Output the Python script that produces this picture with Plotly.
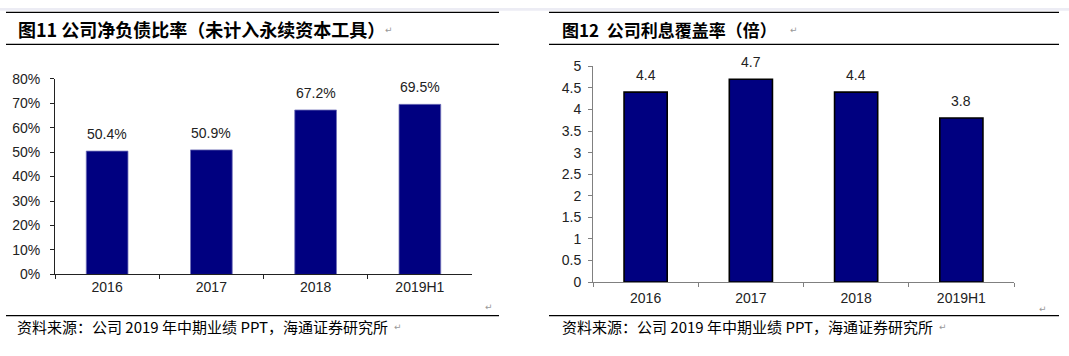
import plotly.graph_objects as go

W, H = 1069, 356

categories = ["2016", "2017", "2018", "2019H1"]
net_debt_ratio = [50.4, 50.9, 67.2, 69.5]          # %
interest_cover = [4.4, 4.7, 4.4, 3.8]              # 倍

title_left = "图11 公司净负债比率（未计入永续资本工具）"
title_right = "图12\u00a0\u00a0公司利息覆盖率（倍）"
source_text = "资料来源：公司 2019 年中期业绩 PPT，海通证券研究所"

NAVY = "#000080"
NUM_FONT = "Liberation Sans, Arial, sans-serif"
CJK_FONT = "Noto Sans CJK SC, sans-serif"


def px_x(x):
    return x / W


def px_y(y):
    return 1 - y / H


fig = go.Figure()

fig.add_trace(go.Bar(
    x=categories, y=net_debt_ratio, xaxis="x", yaxis="y",
    marker=dict(color=NAVY, line=dict(color="#7070b8", width=0.8)),
    width=0.4, showlegend=False, hoverinfo="skip",
))
fig.add_trace(go.Bar(
    x=categories, y=interest_cover, xaxis="x2", yaxis="y2",
    marker=dict(color=NAVY, line=dict(color="#000000", width=1.6)),
    width=0.41, showlegend=False, hoverinfo="skip",
))

tickfont = dict(family=NUM_FONT, size=14, color="#222222")
xrange_ = [-0.5, len(categories) - 0.5]

fig.update_layout(
    width=W, height=H,
    margin=dict(l=0, r=0, t=0, b=0),
    paper_bgcolor="white", plot_bgcolor="white",
    xaxis=dict(domain=[px_x(55), px_x(472)], anchor="y", type="category",
               range=xrange_, autorange=False,
               showline=True, linecolor="#222222", linewidth=1,
               ticks="outside", ticklen=4, tickcolor="#222222",
               tickson="boundaries", showgrid=False,
               tickfont=tickfont, fixedrange=True),
    yaxis=dict(domain=[px_y(279), px_y(74)], anchor="x",
               range=[0, 80], dtick=10, ticksuffix="%",
               showline=True, linecolor="#222222", linewidth=1,
               ticks="outside", ticklen=4, tickcolor="#222222",
               ticklabelstandoff=7,
               showgrid=False, zeroline=False,
               tickfont=tickfont, fixedrange=True),
    xaxis2=dict(domain=[px_x(593), px_x(1014)], anchor="y2", type="category",
                range=xrange_, autorange=False,
                showline=True, linecolor="#808080", linewidth=1,
                ticks="outside", ticklen=4, tickcolor="#808080",
                tickson="boundaries", showgrid=False,
                ticklabelstandoff=3,
                tickfont=tickfont, fixedrange=True),
    yaxis2=dict(domain=[px_y(287), px_y(61)], anchor="x2",
                range=[0, 5], dtick=0.5,
                showline=True, linecolor="#808080", linewidth=1,
                ticks="outside", ticklen=4, tickcolor="#808080",
                ticklabelstandoff=4,
                showgrid=False, zeroline=False,
                tickfont=tickfont, fixedrange=True),
)

annotations = []
# value labels: x given as the category index on the category axis
for i, v in enumerate(net_debt_ratio):
    annotations.append(dict(x=i, y=v, xref="x", yref="y", text=f"{v:.1f}%",
                            showarrow=False, yanchor="bottom", yshift=7,
                            font=dict(family=NUM_FONT, size=14, color="#222222")))
for i, v in enumerate(interest_cover):
    annotations.append(dict(x=i, y=v, xref="x2", yref="y2", text=f"{v:.1f}",
                            showarrow=False, yanchor="bottom", yshift=7,
                            font=dict(family=NUM_FONT, size=14, color="#222222")))

# titles
annotations.append(dict(x=px_x(16), y=px_y(22), xref="paper", yref="paper",
                        text=f"<b>{title_left}</b>", showarrow=False,
                        xanchor="left", yanchor="middle",
                        font=dict(family=CJK_FONT, size=18, color="#000000")))
annotations.append(dict(x=px_x(560), y=px_y(22), xref="paper", yref="paper",
                        text=f"<b>{title_right}</b>", showarrow=False,
                        xanchor="left", yanchor="middle",
                        font=dict(family=CJK_FONT, size=17, color="#000000")))
# sources
for x0 in (15, 560):
    annotations.append(dict(x=px_x(x0), y=px_y(333), xref="paper", yref="paper",
                            text=source_text, showarrow=False,
                            xanchor="left", yanchor="middle",
                            font=dict(family=CJK_FONT, size=15, color="#000000")))
# paragraph marks
for (xm, ym) in [(389, 23), (794, 23), (398, 334), (943, 334), (489, 313), (1043, 315)]:
    annotations.append(dict(x=px_x(xm), y=px_y(ym), xref="paper", yref="paper",
                            text="↵", showarrow=False, xanchor="center", yanchor="middle",
                            font=dict(family="DejaVu Sans", size=9, color="#999999")))

fig.update_layout(annotations=annotations)

shapes = [
    dict(type="rect", xref="paper", yref="paper", x0=0, x1=1, y0=px_y(3), y1=1,
         fillcolor="#ECECF4", line=dict(width=0), layer="below"),
]
for (xa, xb) in [(6, 499), (549, 1059)]:
    for y in (4.5, 38, 322):
        shapes.append(dict(type="line", xref="paper", yref="paper",
                           x0=px_x(xa), x1=px_x(xb), y0=px_y(y), y1=px_y(y),
                           line=dict(color="#000000", width=1.2)))
fig.update_layout(shapes=shapes)

fig.write_html("out.html",
               config={"displayModeBar": False},
               post_script="document.body.style.margin='0';document.body.style.overflow='hidden';")
